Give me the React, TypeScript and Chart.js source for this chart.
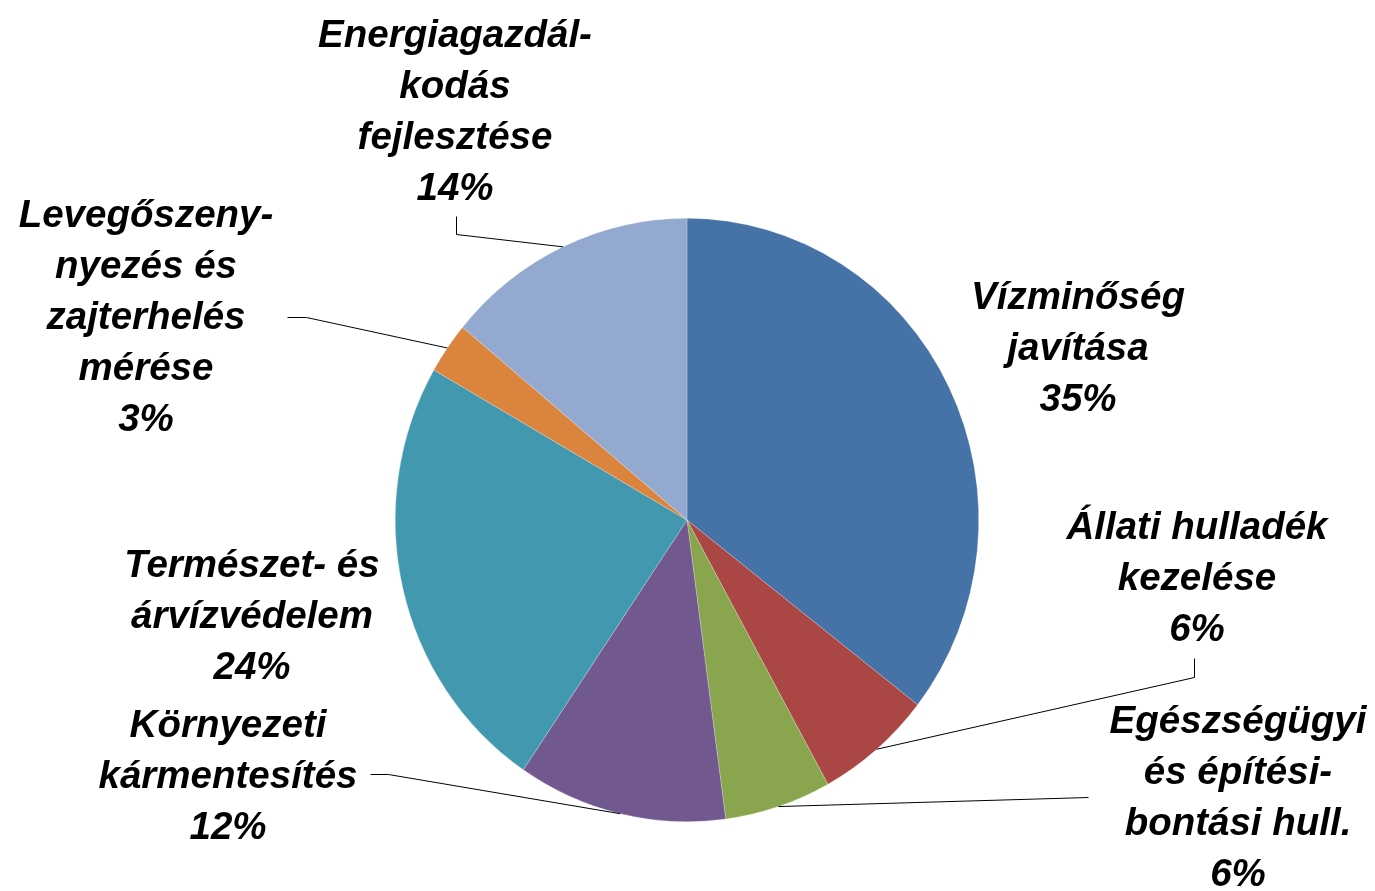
import React, { useEffect, useRef } from "react";
import { Chart, registerables } from "chart.js";

Chart.register(...registerables);

// ---- data ----
const categories: string[] = [
  "Vízminőség\njavítása",
  "Állati hulladék\nkezelése",
  "Egészségügyi\nés építési-\nbontási hull.",
  "Környezeti\nkármentesítés",
  "Természet- és\nárvízvédelem",
  "Levegőszeny-\nnyezés és\nzajterhelés\nmérése",
  "Energiagazdál-\nkodás\nfejlesztése",
];
const shares: number[] = [35.49, 6.49, 5.9, 11.6, 23.8, 2.75, 13.97];

// ---- styles / layout ----
const colors: string[] = ["#4572A7", "#AA4643", "#89A54E", "#71588F", "#4198AF", "#DB843D", "#93A9CF"];
// label block: centre x, first baseline y, leader points from label toward slice (null = no leader)
const labelLayout: { x: number; y: number; leader: number[][] | null }[] = [
  { x: 1078, y: 309, leader: null },
  { x: 1197, y: 539, leader: [[1194, 658], [1194, 677]] },
  { x: 1238, y: 733, leader: [[1088, 797]] },
  { x: 228, y: 737, leader: [[370, 774], [388, 774]] },
  { x: 252, y: 577, leader: null },
  { x: 146, y: 227, leader: [[287, 317], [306, 317]] },
  { x: 455, y: 47, leader: [[456, 216], [456, 234]] },
];
const W = 1375;
const H = 891;
const SY = 302 / 292; // vertical stretch of the pie (slightly elliptical)
const LINE_H = 51;
const FONT = 'italic bold 38.5px "Liberation Sans", Arial, sans-serif';

const ellipsePlugin = {
  id: "ellipse",
  beforeDatasetsDraw(chart: any) {
    const arc = chart.getDatasetMeta(0).data[0];
    if (!arc) return;
    const ctx = chart.ctx;
    ctx.save();
    ctx.translate(arc.x, arc.y);
    ctx.scale(1, SY);
    ctx.translate(-arc.x, -arc.y);
  },
  afterDatasetsDraw(chart: any) {
    chart.ctx.restore();
  },
};

const labelPlugin = {
  id: "pieLabels",
  afterDraw(chart: any) {
    const ctx = chart.ctx;
    const meta = chart.getDatasetMeta(0);
    const total = shares.reduce((a, b) => a + b, 0);
    ctx.save();
    meta.data.forEach((arc: any, i: number) => {
      const { x, y, startAngle, endAngle, outerRadius } = arc.getProps(
        ["x", "y", "startAngle", "endAngle", "outerRadius"],
        true
      );
      const mid = (startAngle + endAngle) / 2;
      const ex = x + outerRadius * Math.cos(mid);
      const ey = y + outerRadius * Math.sin(mid) * SY;
      const lay = labelLayout[i];
      if (lay.leader) {
        ctx.beginPath();
        ctx.strokeStyle = "#000";
        ctx.lineWidth = 1;
        ctx.moveTo(lay.leader[0][0] + 0.5, lay.leader[0][1] + 0.5);
        for (let k = 1; k < lay.leader.length; k++) ctx.lineTo(lay.leader[k][0] + 0.5, lay.leader[k][1] + 0.5);
        ctx.lineTo(ex, ey);
        ctx.stroke();
      }
      const lines = categories[i].split("\n").concat([Math.round((shares[i] / total) * 100) + "%"]);
      ctx.font = FONT;
      ctx.fillStyle = "#000";
      ctx.textAlign = "center";
      ctx.textBaseline = "alphabetic";
      lines.forEach((t, k) => ctx.fillText(t, lay.x, lay.y + k * LINE_H));
    });
    ctx.restore();
  },
};

export default function App() {
  const ref = useRef<HTMLCanvasElement | null>(null);
  useEffect(() => {
    if (!ref.current) return;
    const chart = new Chart(ref.current, {
      type: "pie",
      data: {
        labels: categories.map((c) => c.replace(/\n/g, " ")),
        datasets: [
          {
            data: shares,
            backgroundColor: colors,
            borderColor: "rgba(255,255,255,0.45)",
            borderWidth: 0.5,
          },
        ],
      },
      options: {
        responsive: false,
        animation: false,
        layout: { padding: { left: 100, right: 101, top: 228, bottom: 79 } },
        plugins: {
          legend: { display: false },
          tooltip: { enabled: false },
          title: { display: false },
        },
      },
      plugins: [ellipsePlugin, labelPlugin],
    });
    return () => chart.destroy();
  }, []);
  return (
    <div style={{ position: "fixed", left: 0, top: 0, width: W, height: H, background: "#fff" }}>
      <canvas ref={ref} width={W} height={H} style={{ display: "block", width: W, height: H }} />
    </div>
  );
}
